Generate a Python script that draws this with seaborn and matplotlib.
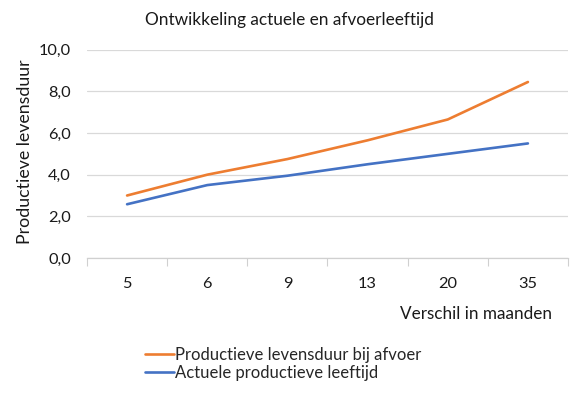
import matplotlib
matplotlib.use("Agg")
import matplotlib.pyplot as plt
import seaborn as sns
import pandas as pd
from matplotlib.ticker import FixedLocator, FuncFormatter

categories = ["5", "6", "9", "13", "20", "35"]
afvoer = [3.0, 4.0, 4.75, 5.65, 6.65, 8.45]
actueel = [2.58, 3.5, 3.95, 4.5, 5.0, 5.5]
series_names = ["Productieve levensduur bij afvoer", "Actuele productieve leeftijd"]
y_ticks = [0, 2, 4, 6, 8, 10]

df = pd.DataFrame({
    "maanden": categories * 2,
    "waarde": afvoer + actueel,
    "reeks": [series_names[0]] * len(categories) + [series_names[1]] * len(categories),
})

sns.set_theme(style="white")
plt.rcParams["font.family"] = ["Lato", "DejaVu Sans"]

fig = plt.figure(figsize=(5.81, 3.99), dpi=100)
ax = fig.add_axes([87 / 581, 1 - 258 / 399, (568 - 87) / 581, (258 - 49.7) / 399])

palette = {series_names[0]: "#ED7D31", series_names[1]: "#4472C4"}
sns.lineplot(data=df, x="maanden", y="waarde", hue="reeks", sort=False,
             palette=palette, linewidth=1.9, ax=ax, legend=True)

ax.set_xlim(-0.5, len(categories) - 0.5)
ax.set_ylim(0, 10)
ax.set_yticks(y_ticks)
ax.yaxis.set_major_formatter(FuncFormatter(lambda v, p: f"{v:.1f}".replace(".", ",")))
ax.xaxis.set_minor_locator(FixedLocator([i - 0.5 for i in range(len(categories) + 1)]))
ax.tick_params(axis="x", which="major", length=0, pad=14, labelsize=11.8)
ax.tick_params(axis="x", which="minor", length=6, width=0.8, color="#d0d0d0", bottom=True)
ax.tick_params(axis="y", length=0, pad=11.5, labelsize=11.8)
for lab in ax.get_xticklabels() + ax.get_yticklabels():
    lab.set_color("#1a1a1a")

ax.grid(axis="y", color="#d9d9d9", linewidth=0.9)
ax.grid(axis="x", visible=False)
for s in ["top", "right", "left"]:
    ax.spines[s].set_visible(False)
ax.spines["bottom"].set_color("#d0d0d0")
ax.spines["bottom"].set_linewidth(0.9)
ax.set_xlabel("")
ax.set_ylabel("")

handles, labels = ax.get_legend_handles_labels()
ax.get_legend().remove()
fig.legend(handles, labels, loc="upper left", bbox_to_anchor=(145 / 581, 1 - 347 / 399),
           frameon=False, fontsize=12, handlelength=1.75, handletextpad=0.05,
           borderpad=0, borderaxespad=0, labelspacing=0.12)

fig.text(289 / 581, 1 - 20 / 399, "Ontwikkeling actuele en afvoerleeftijd",
         ha="center", va="center", fontsize=12.4, color="#1a1a1a")
fig.text(552 / 581, 1 - 314 / 399, "Verschil in maanden",
         ha="right", va="center", fontsize=12.3, color="#1a1a1a")
fig.text(25 / 581, 1 - 152 / 399, "Productieve levensduur", rotation=90,
         ha="center", va="center", fontsize=12.8, color="#1a1a1a")

fig.savefig("out.png", dpi=100)
